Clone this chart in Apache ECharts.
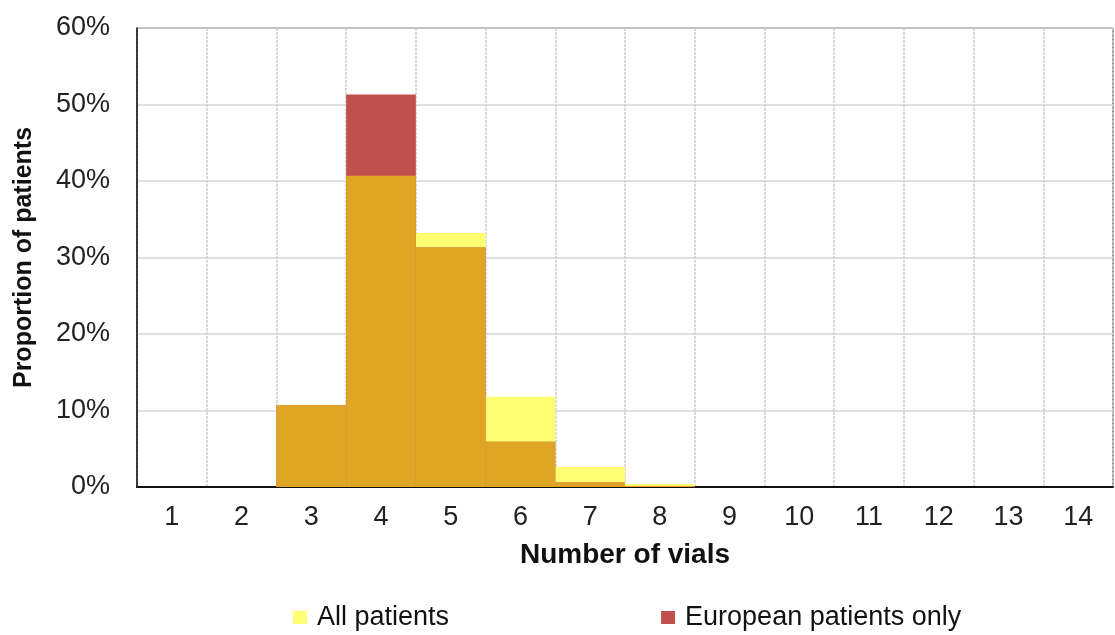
<!DOCTYPE html>
<html>
<head>
<meta charset="utf-8">
<script src="https://cdn.jsdelivr.net/npm/echarts@6/dist/echarts.min.js"></script>
<style>
html,body{margin:0;padding:0;background:#fff;}
#c{width:1115px;height:635px;}
</style>
</head>
<body>
<div id="c"></div>
<script>
const categories = ['1','2','3','4','5','6','7','8','9','10','11','12','13','14'];
const allPatients = [0, 0, 10.7, 40.7, 33.2, 11.8, 2.6, 0.4, 0, 0, 0, 0, 0, 0];
const europeanPatients = [0, 0, 10.7, 51.3, 31.3, 5.9, 0.6, 0.1, 0, 0, 0, 0, 0, 0];
const overlap = allPatients.map((v, i) => Math.min(v, europeanPatients[i]));
const yTicks = [0, 10, 20, 30, 40, 50, 60];

const chart = echarts.init(document.getElementById('c'));
const font = 'Liberation Sans, Arial, sans-serif';
chart.setOption({
  animation: false,
  grid: {left: 137, right: 2, top: 28, bottom: 148, show: true, borderColor: '#222', borderWidth: 1},
  legend: {
    data: [
      {name: 'All patients', itemStyle: {color: '#FFFF73'}},
      {name: 'European patients only', itemStyle: {color: '#C0504D'}}
    ],
    left: 293, top: 604, padding: 0, itemGap: 212, itemWidth: 14, itemHeight: 13,
    icon: 'rect',
    textStyle: {fontFamily: font, fontSize: 27, color: '#111', padding: [0,0,0,5]}
  },
  xAxis: {
    type: 'category', data: categories,
    boundaryGap: true,
    name: 'Number of vials', nameLocation: 'middle', nameGap: 54,
    nameTextStyle: {fontFamily: font, fontSize: 28, fontWeight: 'bold', color: '#111'},
    axisLine: {lineStyle: {color: '#111', width: 2}},
    axisTick: {show: false},
    axisLabel: {fontFamily: font, fontSize: 27, color: '#222', margin: 17},
    splitLine: {show: true, lineStyle: {color: '#d0d0d0', width: 1.5, type: [3, 1]}}
  },
  yAxis: {
    type: 'value', min: 0, max: 60, interval: 10,
    name: 'Proportion of patients', nameLocation: 'middle', nameGap: 100,
    nameTextStyle: {fontFamily: font, fontSize: 25, fontWeight: 'bold', color: '#111'},
    axisLine: {show: true, lineStyle: {color: '#111', width: 1.5}},
    axisTick: {show: false},
    axisLabel: {fontFamily: font, fontSize: 27, color: '#222', margin: 27,
      formatter: v => yTicks.includes(v) ? v + '%' : ''},
    splitLine: {show: true, lineStyle: {color: '#d6d6d6', width: 1.5}}
  },
  series: [
    {name: 'All patients', type: 'bar', data: allPatients, barWidth: '100%', barGap: '-100%',
      itemStyle: {color: '#FFFF73'}},
    {name: 'European patients only', type: 'bar', data: europeanPatients, barWidth: '100%', barGap: '-100%',
      itemStyle: {color: '#C0504D'}},
    {name: 'Overlap', type: 'bar', data: overlap, barWidth: '100%', barGap: '-100%',
      itemStyle: {color: '#DFA626'}}
  ]
});
</script>
</body>
</html>
